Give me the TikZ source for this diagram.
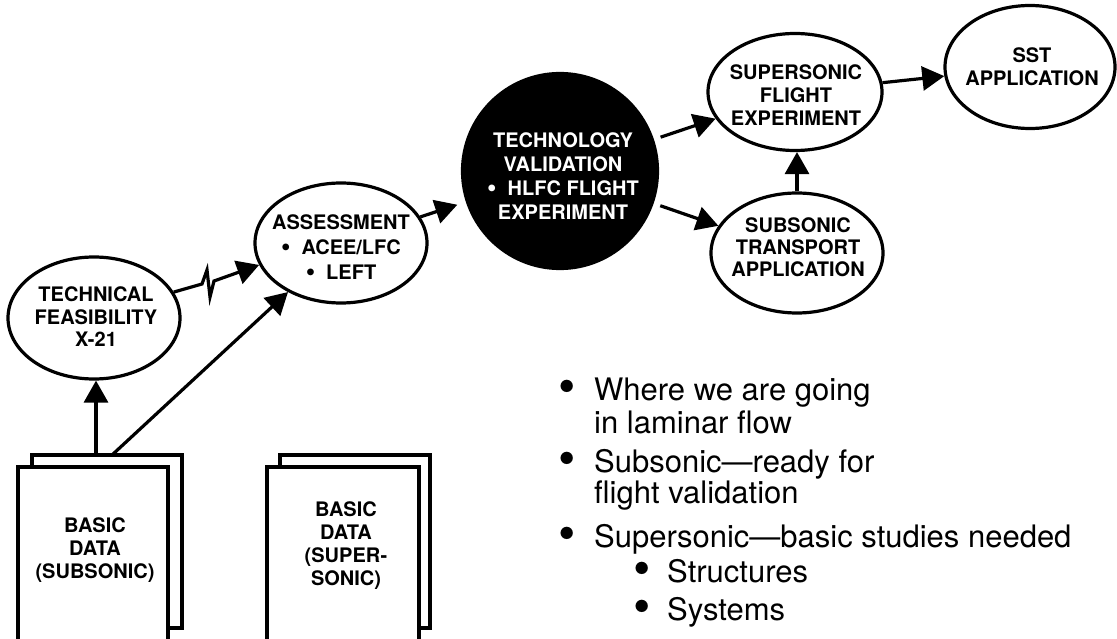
\documentclass[tikz,border=0pt]{standalone}
\usepackage{fontspec}
\setmainfont{TeX Gyre Heros}
\usetikzlibrary{shapes.geometric,arrows.meta}
\newcommand{\bigbul}{\smash{\raisebox{-0.1em}{\scalebox{1.6}{•}}}}
\newcommand{\midbul}{\raisebox{-0.05em}{\scalebox{1.35}{•}}}
\begin{document}
\begin{tikzpicture}[x=1pt,y=-1pt,
  oval/.style={ellipse, draw, line width=3.2pt, inner sep=0pt},
  lbl/.style={align=center, inner sep=0pt, font=\fontsize{20}{23}\selectfont\bfseries},
  arr/.style={line width=3.2pt, -{Triangle[length=22pt,width=24pt]}},
  page/.style={line width=3.2pt, line join=miter},
  bul/.style={anchor=base, inner sep=0pt, font=\fontsize{31}{36}\selectfont},
  txt/.style={anchor=base west, inner sep=0pt, font=\fontsize{31}{36}\selectfont}]
\useasboundingbox (0,0) rectangle (1117,639);

% ellipses
\node[oval, minimum width=172pt, minimum height=122pt] (tf) at (94,318) {};
\node[lbl, font=\fontsize{20}{22.5}\selectfont\bfseries] (tft) at (96,317) {TECHNICAL\\FEASIBILITY\\X-21};

\node[oval, minimum width=172pt, minimum height=120pt] (as) at (341,243) {};
\node[lbl, font=\fontsize{20}{25}\selectfont\bfseries] (ast) at (341,248) {ASSESSMENT\\\midbul\hspace{0.55em}ACEE/LFC\\\midbul\hspace{0.55em}LEFT};

\node[circle, draw, fill=black, line width=3.2pt, inner sep=0pt, minimum size=195pt] (tv) at (560,171) {};
\node[lbl, text=white, font=\fontsize{20}{24}\selectfont\bfseries] (tvt) at (563,176) {TECHNOLOGY\\VALIDATION\\\midbul\hspace{0.55em}HLFC FLIGHT\\EXPERIMENT};

\node[oval, minimum width=174pt, minimum height=117pt] (sf) at (795,92) {};
\node[lbl] (sft) at (796,95) {SUPERSONIC\\FLIGHT\\EXPERIMENT};

\node[oval, minimum width=170pt, minimum height=123pt] (sst) at (1030,67) {};
\node[lbl] (sstt) at (1032,67) {SST\\APPLICATION};

\node[oval, minimum width=172pt, minimum height=120pt] (st) at (797,253) {};
\node[lbl, font=\fontsize{20}{22}\selectfont\bfseries] (stt) at (798,247) {SUBSONIC\\TRANSPORT\\APPLICATION};

% documents
\draw[page] (32,467) -- (32,455) -- (182,455) -- (182,628) -- (168,628);
\draw[page] (18,642) -- (18,467) -- (168,467) -- (168,642);
\node[lbl] (d1) at (95,550) {BASIC\\DATA\\(SUBSONIC)};

\draw[page] (280,467) -- (280,455) -- (430,455) -- (430,628) -- (419,628);
\draw[page] (267,642) -- (267,467) -- (419,467) -- (419,642);
\node[lbl] (d2) at (346,546) {BASIC\\DATA\\(SUPER-\\SONIC)};

\coordinate (d1a) at (96,455);
\coordinate (d1b) at (112,455);

% connectors
\draw[arr] (d1a) -- (d1a |- tf.south);
\draw[arr] (d1b) -- (as);
\draw[arr, line join=miter] (tf.18) -- (202,284) -- (207,270) -- (210,297) -- (214,281) -- (as.195);
\draw[arr, shorten >=9pt] (as) -- (tv);
\draw[arr, shorten <=7pt] (tv) -- (sf);
\draw[arr, shorten <=7pt] (tv) -- (st);
\draw[arr] (st.north) -- (st.north |- sf.south);
\draw[arr] (sf) -- (sst);

% bullet list
\node[bul] (b1) at (567,400) {\bigbul};
\node[txt] (l1) at (594,400) {Where we are going};
\node[txt] (l2) at (594,433) {in laminar flow};
\node[bul] (b2) at (567,472) {\bigbul};
\node[txt] (l3) at (594,472) {Subsonic—ready for};
\node[txt] (l4) at (594,503) {flight validation};
\node[bul] (b3) at (567,547) {\bigbul};
\node[txt] (l5) at (594,547) {Supersonic—basic studies needed};
\node[bul] (b4) at (642,582) {\bigbul};
\node[txt] (l6) at (667,582) {Structures};
\node[bul] (b5) at (642,620) {\bigbul};
\node[txt] (l7) at (667,620) {Systems};
\end{tikzpicture}
\end{document}
